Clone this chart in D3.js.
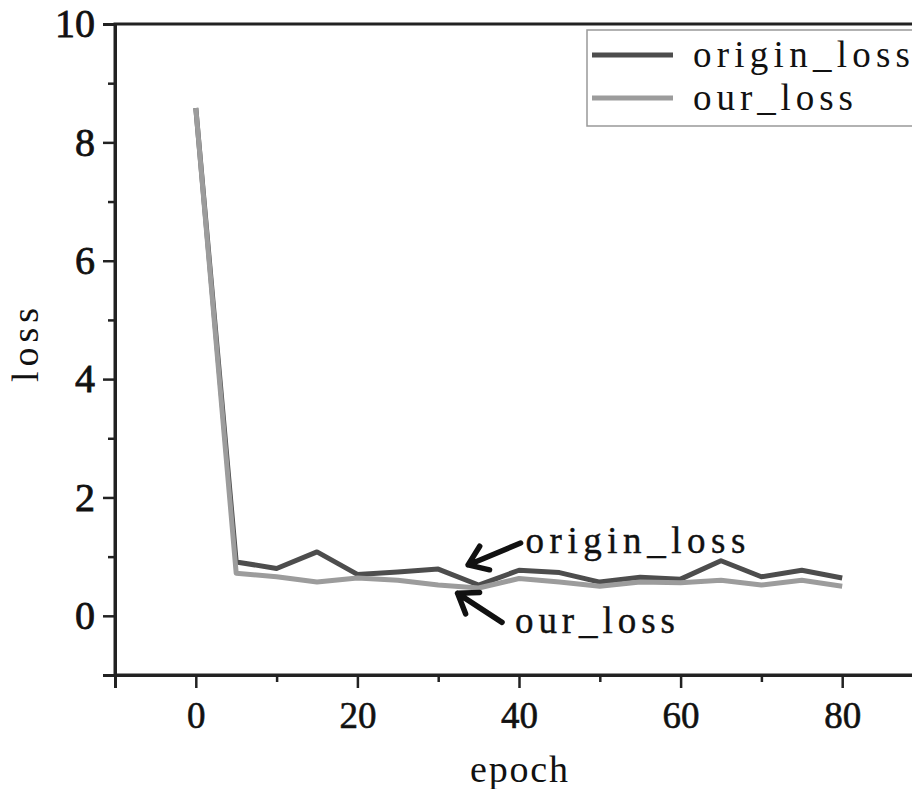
<!DOCTYPE html>
<html>
<head>
<meta charset="utf-8">
<script src="https://cdn.jsdelivr.net/npm/d3@7"></script>
<style>
  body { margin: 0; background: #fff; overflow: hidden; }
  svg text { font-family: "Liberation Serif", "Times New Roman", "DejaVu Serif", serif !important; fill: #111; }
</style>
</head>
<body>
<script>
const epochs = [0, 5, 10, 15, 20, 25, 30, 35, 40, 45, 50, 55, 60, 65, 70, 75, 80];
const originLoss = [8.58, 0.91, 0.80, 1.08, 0.70, 0.74, 0.79, 0.52, 0.77, 0.73, 0.57, 0.65, 0.62, 0.93, 0.66, 0.77, 0.64];
const ourLoss = [8.58, 0.72, 0.66, 0.57, 0.64, 0.60, 0.52, 0.47, 0.63, 0.57, 0.50, 0.57, 0.56, 0.60, 0.52, 0.60, 0.50];
const xTicks = [0, 20, 40, 60, 80];
const xMinor = [10, 30, 50, 70];
const yTicks = [0, 2, 4, 6, 8, 10];
const yMinor = [1, 3, 5, 7, 9];
const seriesNames = ['origin_loss', 'our_loss'];

const width = 912;
const height = 789;
const serif = '"Liberation Serif", "Times New Roman", "DejaVu Serif", serif';

const x = d3.scaleLinear().domain([-10, 90]).range([115, 923]);
const y = d3.scaleLinear().domain([-1, 10]).range([675, 24]);

const svg = d3.select('body')
  .append('svg')
  .attr('width', width)
  .attr('height', height)
  .attr('font-family', serif);

// frame
svg.append('rect')
  .attr('x', x(-10))
  .attr('y', y(10))
  .attr('width', x(90) - x(-10))
  .attr('height', y(-1) - y(10))
  .attr('fill', 'none')
  .attr('stroke', '#222')
  .attr('stroke-width', 3);

// axes
const xAxis = svg.append('g')
  .attr('transform', `translate(0,${y(-1)})`)
  .call(d3.axisBottom(x).tickValues(xTicks).tickSize(13).tickPadding(14));
svg.append('g')
  .attr('transform', `translate(0,${y(-1)})`)
  .call(d3.axisBottom(x).tickValues(xMinor).tickSize(7).tickFormat(''));

const yAxis = svg.append('g')
  .attr('transform', `translate(${x(-10)},0)`)
  .call(d3.axisLeft(y).tickValues(yTicks).tickSize(12).tickPadding(8));
svg.append('g')
  .attr('transform', `translate(${x(-10)},0)`)
  .call(d3.axisLeft(y).tickValues(yMinor).tickSize(7).tickFormat(''));

svg.selectAll('g').attr('font-family', serif);
svg.selectAll('.domain').attr('stroke', '#222').attr('stroke-width', 3);
svg.selectAll('.tick line').attr('stroke', '#222').attr('stroke-width', 2.5);
xAxis.selectAll('text').style('font-size', '37px').attr('fill', '#111')
  .attr('stroke', '#111').attr('stroke-width', 0.6);
yAxis.selectAll('text').style('font-size', '40px').attr('fill', '#111')
  .attr('stroke', '#111').attr('stroke-width', 0.8);

// axis titles
svg.append('text')
  .attr('x', x(40))
  .attr('y', 782)
  .attr('text-anchor', 'middle')
  .style('font-size', '38px')
  .attr('textLength', 98)
  .text('epoch');

svg.append('text')
  .attr('transform', `translate(38,${345}) rotate(-90)`)
  .attr('text-anchor', 'middle')
  .style('font-size', '38px')
  .attr('textLength', 74)
  .text('loss');

// lines
const line = d3.line()
  .x((d, i) => x(epochs[i]))
  .y(d => y(d));

svg.append('path')
  .datum(originLoss)
  .attr('d', line)
  .attr('fill', 'none')
  .attr('stroke', '#4d4d4d')
  .attr('stroke-width', 5)
  .attr('stroke-linejoin', 'round');

svg.append('path')
  .datum(ourLoss)
  .attr('d', line)
  .attr('fill', 'none')
  .attr('stroke', '#9c9c9c')
  .attr('stroke-width', 5)
  .attr('stroke-linejoin', 'round');

// annotations
const notes = [
  { label: 'origin_loss', tip: [33.7, 0.86], tail: [40.2, 1.23], text: [40.8, 1.06], len: 220 },
  { label: 'our_loss', tip: [32.4, 0.38], tail: [37.9, -0.11], text: [39.5, -0.29], len: 160 }
];

notes.forEach(n => {
  const tx = x(n.tip[0]), ty = y(n.tip[1]);
  const sx = x(n.tail[0]), sy = y(n.tail[1]);
  const ang = Math.atan2(sy - ty, sx - tx);
  const b = 22, spread = 0.62;
  const p = d3.path();
  p.moveTo(sx, sy);
  p.lineTo(tx, ty);
  p.moveTo(tx + b * Math.cos(ang + spread), ty + b * Math.sin(ang + spread));
  p.lineTo(tx, ty);
  p.lineTo(tx + b * Math.cos(ang - spread), ty + b * Math.sin(ang - spread));
  svg.append('path')
    .attr('d', p.toString())
    .attr('fill', 'none')
    .attr('stroke', '#111')
    .attr('stroke-width', 5.5)
    .attr('stroke-linecap', 'round')
    .attr('stroke-linejoin', 'round');

  svg.append('text')
    .attr('x', x(n.text[0]))
    .attr('y', y(n.text[1]))
    .style('font-size', '37px')
    .attr('textLength', n.len)
    .attr('stroke', '#111')
    .attr('stroke-width', 0.4)
    .text(n.label);
});

// legend
const legend = svg.append('g');
legend.append('rect')
  .attr('x', 587)
  .attr('y', 30)
  .attr('width', 360)
  .attr('height', 96)
  .attr('fill', '#fff')
  .attr('stroke', '#999')
  .attr('stroke-width', 1.5);

const legendColors = ['#4d4d4d', '#9c9c9c'];
const legendY = [55, 98];
const legendLen = [217, 160];
seriesNames.forEach((name, i) => {
  legend.append('line')
    .attr('x1', 592).attr('x2', 673)
    .attr('y1', legendY[i]).attr('y2', legendY[i])
    .attr('stroke', legendColors[i])
    .attr('stroke-width', 5);
  legend.append('text')
    .attr('x', 693)
    .attr('y', legendY[i] + 12)
    .style('font-size', '37px')
    .attr('textLength', legendLen[i])
    .attr('fill', '#333')
    .text(name);
});
</script>
</body>
</html>
